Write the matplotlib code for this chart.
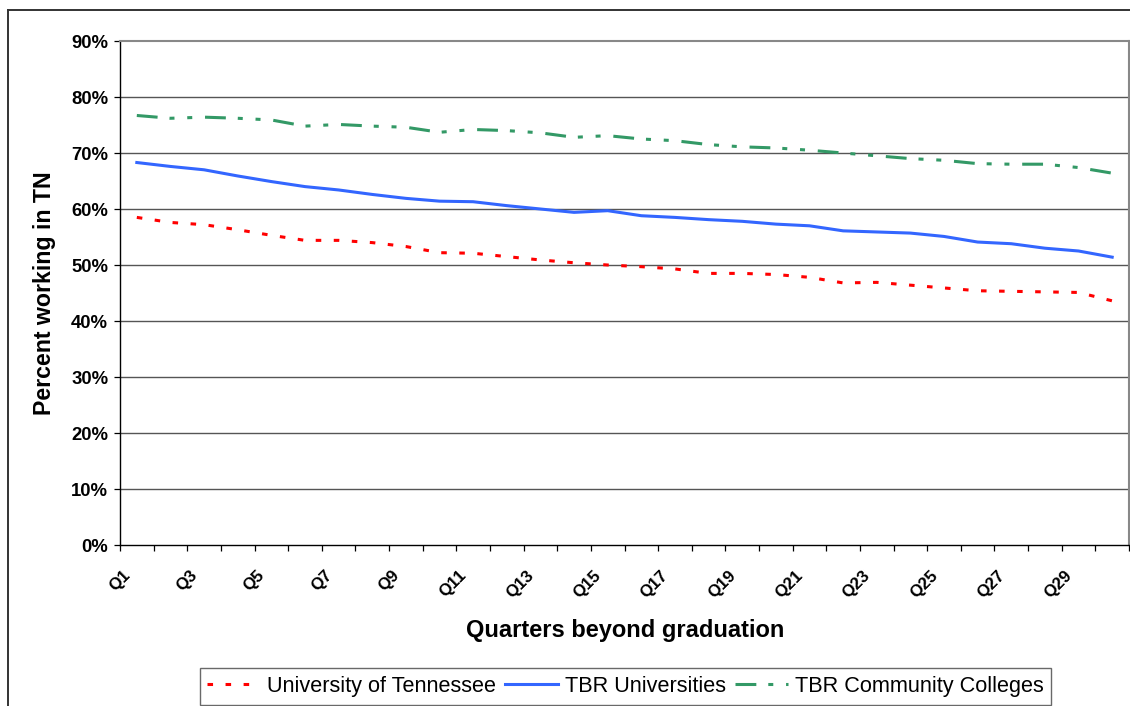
import matplotlib
matplotlib.use("Agg")
import matplotlib.pyplot as plt
from matplotlib.lines import Line2D
from matplotlib.transforms import ScaledTranslation
import numpy as np

# Share of graduates working in Tennessee, by quarter after graduation
quarters = [f"Q{i}" for i in range(1, 31)]

univ_tennessee = [58.5, 57.6, 57.2, 56.3, 55.3, 54.4, 54.4, 54.0, 53.3, 52.2,
                  52.1, 51.5, 50.9, 50.4, 50.0, 49.7, 49.3, 48.5, 48.5, 48.3,
                  47.8, 46.8, 46.9, 46.4, 45.9, 45.4, 45.3, 45.2, 45.1, 43.6]

tbr_universities = [68.3, 67.6, 67.0, 65.9, 64.9, 64.0, 63.4, 62.6, 61.9, 61.4,
                    61.3, 60.6, 60.0, 59.4, 59.7, 58.8, 58.5, 58.1, 57.8, 57.3,
                    57.0, 56.1, 55.9, 55.7, 55.1, 54.1, 53.8, 53.0, 52.5, 51.4]

tbr_community = [76.7, 76.2, 76.4, 76.2, 75.9, 74.8, 75.1, 74.8, 74.6, 73.7,
                 74.2, 74.0, 73.6, 72.8, 73.1, 72.5, 72.2, 71.5, 71.1, 70.9,
                 70.5, 70.0, 69.5, 69.0, 68.7, 68.1, 68.0, 68.0, 67.4, 66.4]

series_labels = ["University of Tennessee", "TBR Universities", "TBR Community Colleges"]

plt.rcParams["font.family"] = ["Liberation Sans", "DejaVu Sans"]
plt.rcParams["lines.scale_dashes"] = False

W, H = 1130, 706
fig = plt.figure(figsize=(W / 100, H / 100), dpi=100)
fig.patch.set_facecolor("white")

left, right, top, bottom = 120, 1129, 41, 545
ax = fig.add_axes([left / W, 1 - bottom / H, (right - left) / W, (bottom - top) / H])

x = np.arange(len(quarters))
lw = 2.2
red_line, = ax.plot(x, np.array(univ_tennessee) / 100, color="#FF0000", lw=lw,
                    dashes=(4.0, 9.0), solid_capstyle="butt", dash_capstyle="butt")
blue_line, = ax.plot(x, np.array(tbr_universities) / 100, color="#3366FF", lw=lw,
                     solid_joinstyle="round")
green_line, = ax.plot(x, np.array(tbr_community) / 100, color="#339966", lw=lw,
                      dashes=(15.0, 8.6, 3.6, 9.2, 3.6, 9.2), dash_capstyle="butt")

ax.set_xlim(-0.5, len(quarters) - 0.5)
ax.set_ylim(0, 0.9)

# y axis: percent ticks with horizontal gridlines
yticks = np.arange(0, 0.91, 0.1)
ax.set_yticks(yticks)
ax.set_yticklabels([f"{int(round(v * 100))}%" for v in yticks],
                   fontsize=13.3, fontweight="bold")
ax.tick_params(axis="y", direction="out", length=4.5, width=0.9, pad=4, colors="black")
for v in yticks[1:-1]:
    ax.axhline(v, color="#555555", lw=1.0, zorder=0)

# x axis: tick marks between categories, labels on every other quarter
ax.set_xticks(np.arange(-0.5, len(quarters)), minor=True)
ax.set_xticks(x[::2])
ax.set_xticklabels(quarters[::2], fontsize=12.2, fontweight="bold",
                   rotation=45, ha="right", va="center", rotation_mode="anchor")
ax.tick_params(axis="x", which="major", length=0, pad=16)
ax.tick_params(axis="x", which="minor", direction="out", length=4.5, width=0.9)
shift = ScaledTranslation(-0.09, -0.06, fig.dpi_scale_trans)
for lbl in ax.get_xticklabels():
    lbl.set_transform(lbl.get_transform() + shift)

for side in ("left", "bottom"):
    ax.spines[side].set_color("black")
    ax.spines[side].set_linewidth(1.0)
for side in ("top", "right"):
    ax.spines[side].set_color("#888888")
    ax.spines[side].set_linewidth(1.5)

fig.text(45 / W, 1 - 293 / H, "Percent working in TN", rotation=90,
         ha="center", va="center", fontsize=16.7, fontweight="bold")
fig.text(625 / W, 1 - 631 / H, "Quarters beyond graduation",
         ha="center", va="center", fontsize=17, fontweight="bold")

leg = fig.legend([red_line, blue_line, green_line], series_labels,
                 loc="center", bbox_to_anchor=(625.5 / W, 1 - 686.5 / H),
                 ncol=3, fontsize=15.6, frameon=True, fancybox=False,
                 handlelength=2.45, handletextpad=0.33, columnspacing=0.4,
                 borderpad=0.35, borderaxespad=0)
leg.get_frame().set_edgecolor("#444444")
leg.get_frame().set_linewidth(1.0)

# outer chart border (top and left edges)
fig.add_artist(Line2D([8 / W, 1], [1 - 10 / H, 1 - 10 / H], color="#333333", lw=1.4))
fig.add_artist(Line2D([8 / W, 8 / W], [1 - 10 / H, 0], color="#333333", lw=1.4))

fig.savefig("out.png", dpi=100, facecolor="white")
